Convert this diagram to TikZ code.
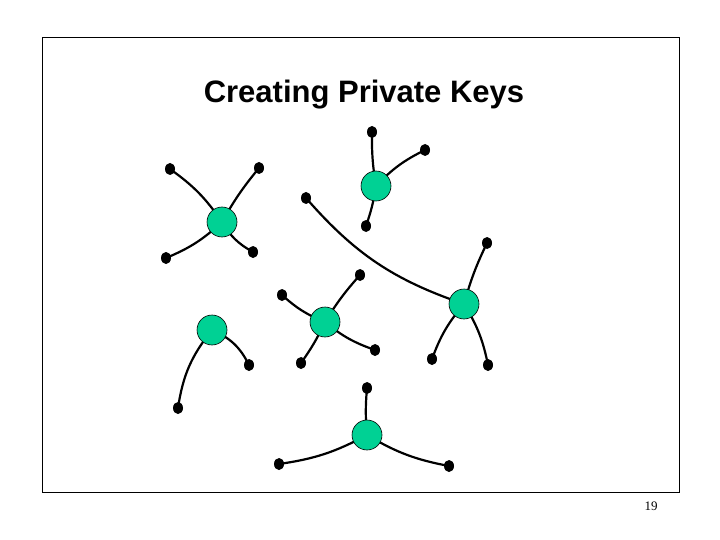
\documentclass[tikz,border=0pt]{standalone}
\usepackage{fontspec}
\usetikzlibrary{shapes.geometric}
\setmainfont{Liberation Serif}
\newfontfamily\arialf{Liberation Sans}
\begin{document}
\begin{tikzpicture}[x=1pt,y=-1pt,
  key/.style={circle,draw=black,line width=0.6pt,fill=green!70!blue!60!cyan,minimum size=30pt,inner sep=0pt},
  dot/.style={ellipse,fill=black,minimum width=10pt,minimum height=12pt,inner sep=0pt},
  wire/.style={line width=2.2pt,black}]
\useasboundingbox (0,0) rectangle (720,540);
\draw[line width=0.8pt] (42,37) rectangle (679,492);
\node (title) at (364,95) {\arialf\bfseries\fontsize{31}{36}\selectfont Creating Private Keys};
\node (pg) at (651,506) {\fontsize{13}{15}\selectfont 19};
% cluster 1
\coordinate (k1) at (222,222);
\node[dot] (a1) at (170,169) {}; \node[dot] (a2) at (259,168) {};
\node[dot] (a3) at (166,258) {}; \node[dot] (a4) at (253,252) {};
% cluster 2
\coordinate (k2) at (376,186);
\node[dot] (b1) at (372,132) {}; \node[dot] (b2) at (425,150) {}; \node[dot] (b3) at (366,226) {};
% cluster 3
\coordinate (k3) at (464,304);
\node[dot] (c1) at (306,198) {}; \node[dot] (c2) at (487,243) {};
\node[dot] (c3) at (432,359) {}; \node[dot] (c4) at (488,365) {};
% cluster 4
\coordinate (k4) at (325,322);
\node[dot] (d1) at (282,295) {}; \node[dot] (d2) at (360,275) {};
\node[dot] (d3) at (301,363) {}; \node[dot] (d4) at (375,350) {};
% cluster 5
\coordinate (k5) at (212,330);
\node[dot] (e1) at (249,365) {}; \node[dot] (e2) at (178,408) {};
% cluster 6
\coordinate (k6) at (367,435);
\node[dot] (f1) at (367,388) {}; \node[dot] (f2) at (279,464) {}; \node[dot] (f3) at (449,466) {};

\draw[wire] (k1) to[bend right=10] (a1.center);
\draw[wire] (k1) to[bend left=5] (a2.center);
\draw[wire] (k1) to[bend left=10] (a3.center);
\draw[wire] (k1) to[bend right=15] (a4.center);
\draw[wire] (k2) to[bend left=5] (b1.center);
\draw[wire] (k2) to[bend left=10] (b2.center);
\draw[wire] (k2) to[bend left=5] (b3.center);
\draw[wire] (k3) to[bend left=15] (c1.center);
\draw[wire] (k3) to[bend left=5] (c2.center);
\draw[wire] (k3) to[bend right=10] (c3.center);
\draw[wire] (k3) to[bend left=10] (c4.center);
\draw[wire] (k4) to[bend left=10] (d1.center);
\draw[wire] (k4) to[bend left=5] (d2.center);
\draw[wire] (k4) to[bend left=5] (d3.center);
\draw[wire] (k4) to[bend right=10] (d4.center);
\draw[wire] (k5) to[bend left=20] (e1.center);
\draw[wire] (k5) to[bend right=15] (e2.center);
\draw[wire] (k6) to[bend left=5] (f1.center);
\draw[wire] (k6) to[bend left=10] (f2.center);
\draw[wire] (k6) to[bend right=10] (f3.center);

\foreach \k in {k1,k2,k3,k4,k5,k6} \node[key] at (\k) {};
\end{tikzpicture}
\end{document}
